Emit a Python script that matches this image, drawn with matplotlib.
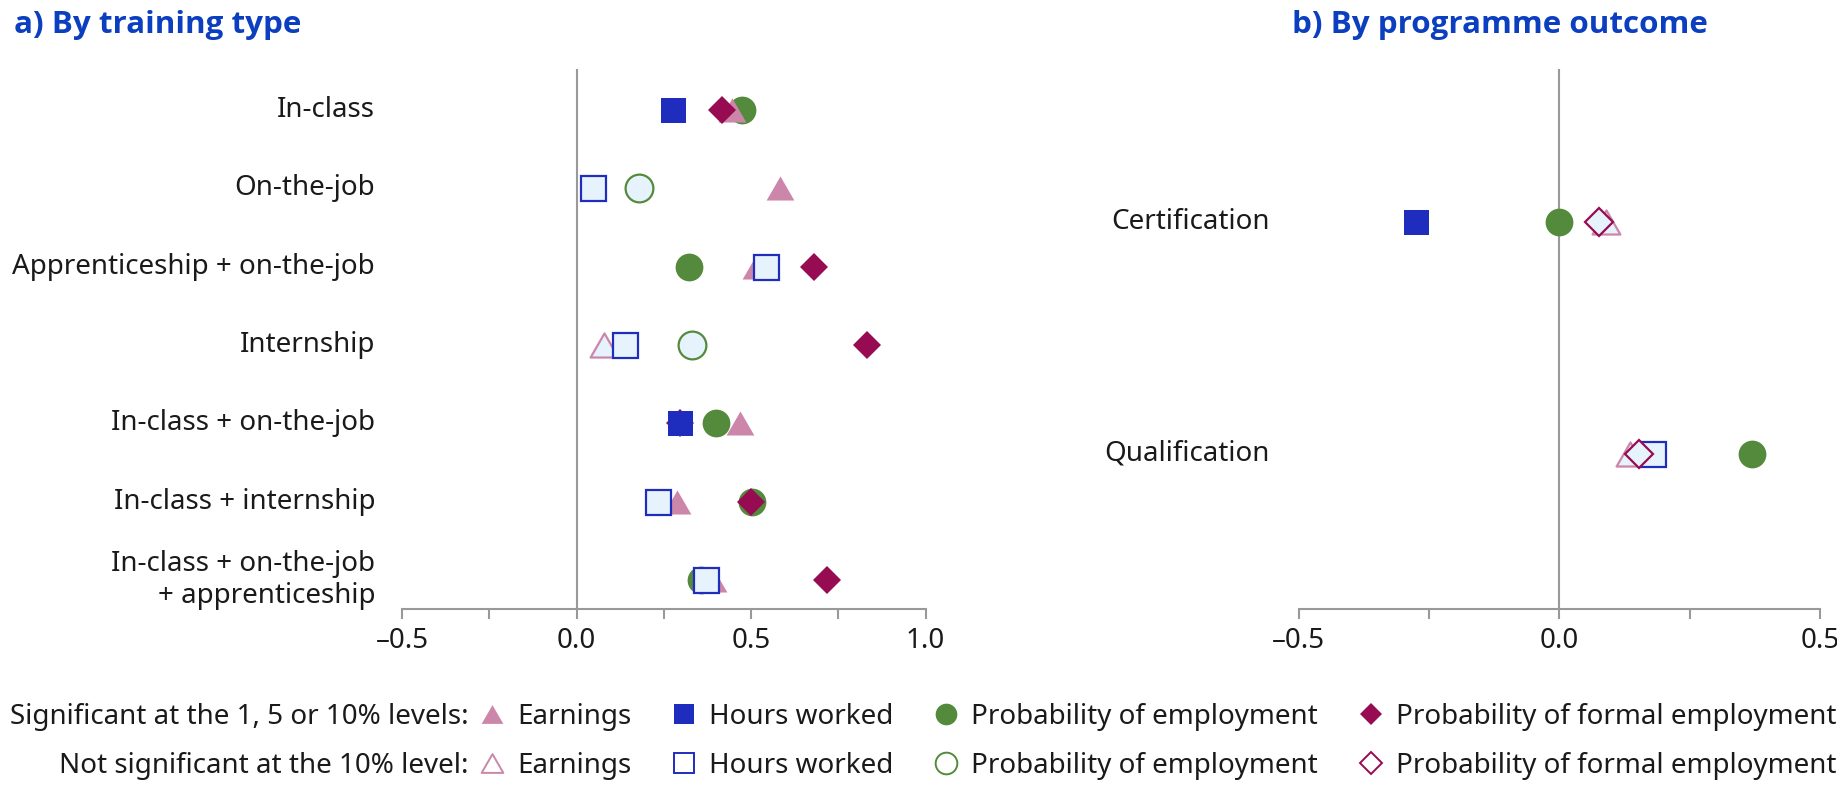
import numpy as np
import matplotlib.pyplot as plt
from matplotlib.lines import Line2D
from matplotlib.path import Path

plt.rcParams['font.family'] = ['Noto Sans', 'DejaVu Sans']

# panel a) by training type
types = ["In-class", "On-the-job", "Apprenticeship + on-the-job", "Internship",
         "In-class + on-the-job", "In-class + internship",
         "In-class + on-the-job\n+ apprenticeship"]
earn_a = [0.445, 0.583, 0.514, 0.078, 0.467, 0.288, 0.390]
earn_a_sig = [1, 1, 1, 0, 1, 1, 1]
hours_a = [0.275, 0.047, 0.542, 0.138, 0.295, 0.232, 0.372]
hours_a_sig = [1, 0, 0, 0, 1, 0, 0]
emp_a = [0.474, 0.180, 0.323, 0.332, 0.400, 0.504, 0.358]
emp_a_sig = [1, 0, 1, 0, 1, 1, 1]
formal_a = [0.416, np.nan, 0.680, 0.833, 0.295, 0.500, 0.718]
formal_a_sig = [1, 1, 1, 1, 1, 1, 1]

# panel b) by programme outcome
outcomes = ["Certification", "Qualification"]
earn_b = [0.089, 0.136]
earn_b_sig = [0, 0]
hours_b = [-0.275, 0.179]
hours_b_sig = [1, 0]
emp_b = [0.0, 0.369]
emp_b_sig = [1, 1]
formal_b = [0.076, 0.152]
formal_b_sig = [0, 0]

xticks_a = [-0.5, 0.0, 0.5, 1.0]
xlabels_a = ["\u20130.5", "0.0", "0.5", "1.0"]
xticks_b = [-0.5, 0.0, 0.5]
xlabels_b = ["\u20130.5", "0.0", "0.5"]

measures = ["Earnings", "Hours worked", "Probability of employment",
            "Probability of formal employment"]

tri = Path([(-1, -0.866), (1, -0.866), (0, 0.866), (-1, -0.866)], closed=True)
styles = [(tri, '#cc86a9', 20), ('s', '#1f2dbf', 18),
          ('o', '#548a3c', 20), ('D', '#970b53', 14.3)]
open_fill = '#e6f3fc'
grey = '#999999'
txt = '#1a1a1a'

W, H = 1837, 787
fig = plt.figure(figsize=(W / 100, H / 100), dpi=100)
ax1 = fig.add_axes([402 / W, 1 - 609 / H, (925.6 - 402) / W, 540 / H])
ax2 = fig.add_axes([1298.5 / W, 1 - 609 / H, (1820 - 1298.5) / W, 540 / H])


def draw(ax, vals, sigs, n):
    y = np.arange(n)
    for filled in (True, False):
        order = [2, 0, 3, 1] if filled else [2, 0, 1, 3]
        for k in order:
            v = np.array(vals[k], dtype=float)
            s = np.array(sigs[k], dtype=bool)
            mask = (s if filled else ~s) & ~np.isnan(v)
            m, c, ms = styles[k]
            ax.plot(v[mask], y[mask], ls='none', marker=m, ms=ms,
                    mfc=c if filled else open_fill, mec=c,
                    mew=0 if filled else 1.6, zorder=3, clip_on=False)


draw(ax1, [earn_a, hours_a, emp_a, formal_a],
     [earn_a_sig, hours_a_sig, emp_a_sig, formal_a_sig], len(types))
draw(ax2, [earn_b, hours_b, emp_b, formal_b],
     [earn_b_sig, hours_b_sig, emp_b_sig, formal_b_sig], len(outcomes))

ax1.set_ylim(6.37, -0.523)
ax2.set_ylim(1.671, -0.6625)
ax1.set_xlim(-0.5, 1.0)
ax2.set_xlim(-0.5, 0.5)

for ax, cats, ticks, labs, pad in [(ax1, types, xticks_a, xlabels_a, 19.4),
                                   (ax2, outcomes, xticks_b, xlabels_b, 20.5)]:
    for sp in ['left', 'top', 'right']:
        ax.spines[sp].set_visible(False)
    ax.spines['bottom'].set_color(grey)
    ax.spines['bottom'].set_linewidth(1.5)
    ax.axvline(0, color=grey, lw=1.5, zorder=1)
    ax.set_yticks(range(len(cats)))
    ax.set_yticklabels(cats, fontsize=20, color=txt, ha='right', va='center',
                       linespacing=1.2)
    ax.tick_params(axis='y', length=0, pad=pad)
    ax.set_xticks(ticks)
    ax.set_xticklabels(labs, fontsize=20, color=txt)
    ax.set_xticks(np.arange(ticks[0], ticks[-1] + 0.01, 0.25), minor=True)
    ax.tick_params(axis='x', which='both', direction='out', length=7.2,
                   width=1.5, color=grey, pad=5.5)
    ax.set_facecolor('none')

title_font = ['Open Sans', 'Noto Sans', 'DejaVu Sans']
fig.text(14 / W, 1 - 25 / H, "a) By training type", fontsize=22.6,
         fontweight='bold', family=title_font, color='#0b3fc0', va='center')
fig.text(1292 / W, 1 - 25 / H, "b) By programme outcome", fontsize=22.6,
         fontweight='bold', family=title_font, color='#0b3fc0', va='center')

# legend, one row per significance level
rows = [("Significant at the 1, 5 or 10% levels:", True, 717),
        ("Not significant at the 10% level:", False, 766.2)]
for label, filled, ypx in rows:
    handles = []
    for m, c, ms in styles:
        handles.append(Line2D([], [], ls='none', marker=m, ms=ms * 0.78,
                              mfc=c if filled else 'white', mec=c,
                              mew=0 if filled else 1.4))
    fig.legend(handles, measures, loc='center left',
               bbox_to_anchor=(481 / W, 1 - ypx / H), ncol=4, frameon=False,
               fontsize=20, handlelength=0.8, handletextpad=0.5,
               columnspacing=1.5, borderpad=0, borderaxespad=0,
               labelcolor=txt)
    fig.text(468.6 / W, 1 - ypx / H, label, fontsize=20, color=txt,
             ha='right', va='center')

fig.savefig('out.png', dpi=100)
